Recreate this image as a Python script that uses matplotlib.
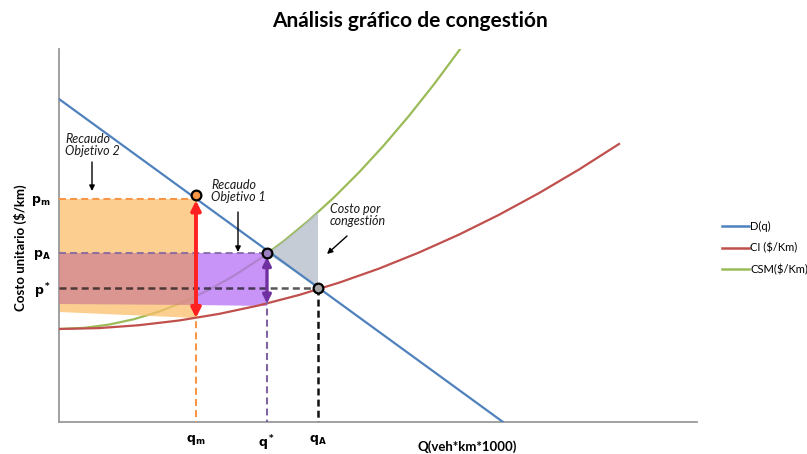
import matplotlib
matplotlib.use("Agg")
import matplotlib.pyplot as plt
from matplotlib.lines import Line2D

plt.rcParams['font.family'] = ['Lato', 'DejaVu Sans']
plt.rcParams['lines.scale_dashes'] = False

# ---- data ----
demand_x = [0, 444]
demand_y = [323, 0]

ci_x = [0, 40, 80, 120, 160, 200, 240, 280, 320, 360, 400, 440, 480, 520, 560]
ci_y = [93.0, 93.9, 96.8, 101.5, 108.1, 116.6, 127.0, 139.3, 153.4, 169.5,
        187.4, 207.2, 228.9, 252.5, 278.0]

csm_x = [0, 25, 50, 75, 100, 125, 150, 175, 200, 225, 250, 275, 300, 325,
         350, 375, 400, 410]
csm_y = [93.0, 94.1, 97.4, 102.8, 110.4, 120.2, 132.2, 146.3, 162.6, 181.1,
         201.8, 224.6, 249.6, 276.8, 306.2, 337.7, 371.4, 385.5]

q_m, p_m = 137, 223
q_star, p_A = 208, 169
q_A, p_star = 259, 134
ci_at_qm = 104
ci_at_qstar = 118.5

orange_x = [0, q_m, q_m, 0]
orange_y = [p_m, p_m, ci_at_qm, 110]
salmon_x = [0, q_m, q_m, 0]
salmon_y = [p_A, p_A, 117, 118]
purple_x = [q_m, q_star, q_star, q_m]
purple_y = [p_A, p_A, 116, 117]
grey_x = [208, 220, 230, 240, 250, 259, 259]
grey_y = [169, 177, 185, 193, 202, 210, 134.6]

x_tick_labels = [r'$\mathbf{q_m}$', r'$\mathbf{q^*}$', r'$\mathbf{q_A}$']
y_tick_labels = [r'$\mathbf{p_m}$', r'$\mathbf{p_A}$', r'$\mathbf{p^*}$']
legend_labels = ['D(q)', 'CI ($/Km)', 'CSM($/Km)']

# ---- figure ----
fig = plt.figure(figsize=(8.07, 4.54), dpi=100)
ax = fig.add_axes([59/807, 32/454, 638/807, 373/454])
ax.set_xlim(0, 638)
ax.set_ylim(0, 373)

c_blue = '#4F81BD'
c_red = '#C0504D'
c_green = '#9BBB59'

# green under fills
ax.plot(csm_x, csm_y, color=c_green, lw=1.6, zorder=1, solid_capstyle='butt')

ax.fill(orange_x, orange_y, color='#FBBF6C', alpha=0.75, lw=0, zorder=2)
ax.fill(salmon_x, salmon_y, color='#D18391', alpha=0.75, lw=0, zorder=3)
ax.fill(purple_x, purple_y, color='#B670F6', alpha=0.75, lw=0, zorder=3)
ax.fill(grey_x, grey_y, color='#B2BCC8', alpha=0.75, lw=0, zorder=2)

ax.plot(ci_x, ci_y, color=c_red, lw=1.6, zorder=4)
ax.plot(demand_x, demand_y, color=c_blue, lw=1.6, zorder=4)

# dashed guide lines
dash = (5, 3)
ax.plot([0, q_m], [p_m, p_m], color='#F79646', lw=1.5, dashes=dash, zorder=5)
ax.plot([q_m, q_m], [p_m, 0], color='#F79646', lw=1.5, dashes=dash, zorder=5)
ax.plot([0, q_star], [p_A, p_A], color='#8064A2', lw=1.5, dashes=dash, zorder=5, alpha=0.85)
ax.plot([q_star, q_star], [p_A, 0], color='#8064A2', lw=1.5, dashes=dash, zorder=5)
ax.plot([0, q_A], [p_star, p_star], color='#111111', lw=1.8, dashes=dash, zorder=5, alpha=0.7)
ax.plot([q_A, q_A], [p_star, 0], color='#111111', lw=1.8, dashes=dash, zorder=5)

# double arrows
ax.annotate('', xy=(q_m, ci_at_qm), xytext=(q_m, p_m),
            arrowprops=dict(arrowstyle='<|-|>', color='#FF2020', lw=2.8,
                            mutation_scale=14, shrinkA=1, shrinkB=0), zorder=6)
ax.annotate('', xy=(q_star, ci_at_qstar), xytext=(q_star, p_A),
            arrowprops=dict(arrowstyle='<|-|>', color='#7030A0', lw=2.4,
                            mutation_scale=12, shrinkA=3, shrinkB=0), zorder=6)

# markers
ax.plot([q_m], [p_m + 4], 'o', ms=7, mfc='#F79646', mec='black', mew=1.6, zorder=7)
ax.plot([q_star], [p_A], 'o', ms=7, mfc='#9B7FC0', mec='black', mew=1.6, zorder=7)
ax.plot([q_A], [p_star], 'o', ms=7, mfc='#A6A6A6', mec='black', mew=1.6, zorder=7)

# annotations
ann_kw = dict(fontsize=9, style='italic', color='#1A1A1A', ha='left', va='top',
              linespacing=1.0)
arr = dict(arrowstyle='-|>', color='black', lw=1.0, mutation_scale=8, shrinkA=0, shrinkB=0)
ax.annotate('', xy=(33, p_m + 8), xytext=(33, 260), arrowprops=arr, zorder=8)
ax.text(6, 289, 'Recaudo\nObjetivo 2', **ann_kw)
ax.annotate('', xy=(179, p_A + 1), xytext=(179, 210), arrowprops=arr, zorder=8)
ax.text(152, 243, 'Recaudo\nObjetivo 1', **ann_kw)
ax.annotate('', xy=(268, 168), xytext=(288, 186), arrowprops=arr, zorder=8)
ax.text(271, 219, 'Costo por\ncongestión', **ann_kw)

# axes styling
for s in ['top', 'right']:
    ax.spines[s].set_visible(False)
for s in ['left', 'bottom']:
    ax.spines[s].set_color('#9A9A9A')
    ax.spines[s].set_linewidth(1.3)
ax.set_xticks([q_m, q_star, q_A])
ax.set_xticklabels(x_tick_labels, fontsize=9)
ax.set_yticks([p_m, p_A, p_star])
ax.set_yticklabels(y_tick_labels, fontsize=9)
ax.tick_params(length=0)
ax.tick_params(axis='x', pad=8)
ax.tick_params(axis='y', pad=6)

fig.text(20/807, 1 - 248/454, 'Costo unitario ($/km)', rotation=90, fontsize=9.5,
         fontweight='bold', ha='center', va='center')
fig.text(467/807, 1 - 447/454, 'Q(veh*km*1000)', fontsize=9.5, fontweight='bold',
         ha='center', va='center')
fig.text(410/807, 1 - 21/454, 'Análisis gráfico de congestión', fontsize=15,
         fontweight='bold', ha='center', va='center')

handles = [Line2D([], [], color=c, lw=1.8) for c in (c_blue, c_red, c_green)]
fig.legend(handles, legend_labels, loc='center left',
           bbox_to_anchor=(712/807, 1 - 248/454), frameon=False, fontsize=8,
           handlelength=2.4, handletextpad=0.15, labelspacing=0.95)

fig.savefig('out.png', dpi=100)
